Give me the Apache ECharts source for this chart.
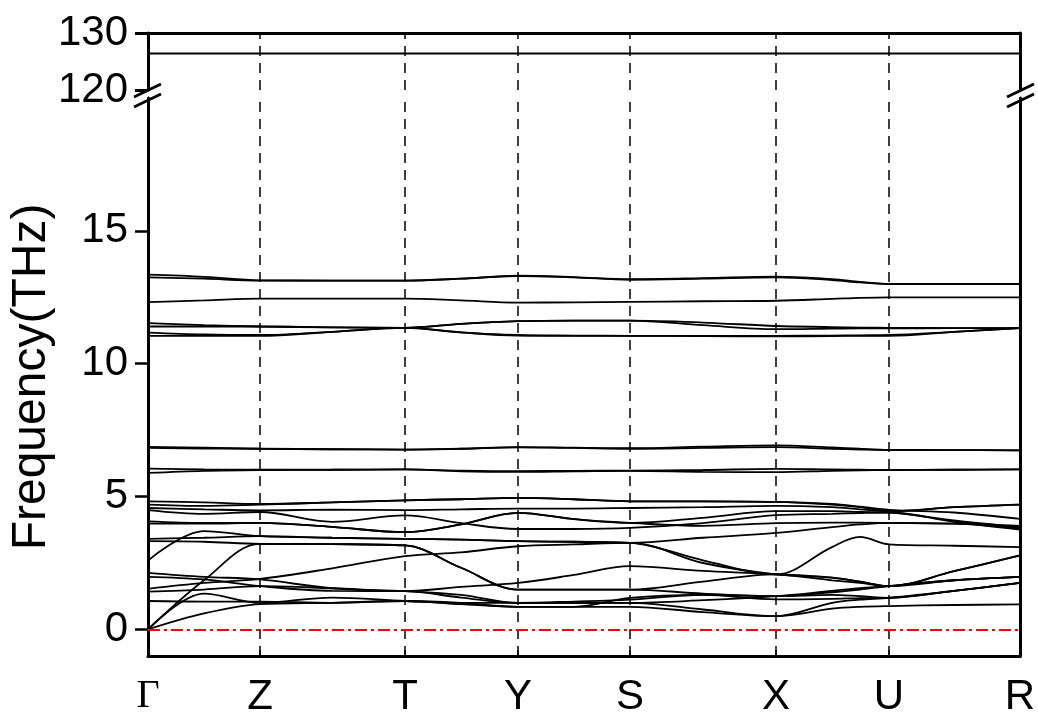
<!DOCTYPE html>
<html><head><meta charset="utf-8">
<script src="https://cdn.jsdelivr.net/npm/echarts@6/dist/echarts.min.js"></script>
<style>html,body{margin:0;padding:0;background:#fff}#c{width:1038px;height:716px}</style>
</head><body><div id="c"></div>
<script>
// k-path sample positions (path distance units) and high-symmetry points
const kx = [0, 56, 112, 184, 257, 313, 370, 426, 482, 555, 628, 684, 712, 741, 806, 872];
const kPos = [0, 112, 257, 370, 482, 628, 741, 872];
const kLabels = ['Γ', 'Z', 'T', 'Y', 'S', 'X', 'U', 'R'];
const lowTicks = [0, 5, 10, 15];
const highTicks = [120, 130];
const zeroRef = 0;

// low-frequency bands (THz), one value per kx sample
const b01 = [0, 0.6, 0.95, 1.0, 1.07, 0.95, 0.85, 0.85, 0.85, 0.65, 0.5, 0.78, 0.85, 0.88, 0.92, 0.94];
const b02 = [0, 1.35, 1.0, 1.2, 1.07, 1.0, 1.0, 1.0, 1.0, 0.75, 0.5, 1.0, 1.12, 1.19, 1.45, 1.75];
const b03 = [1.07, 1.05, 1.05, 1.0, 1.07, 1.0, 0.85, 0.85, 1.19, 1.3, 1.13, 1.15, 1.18, 1.19, 1.45, 1.75];
const b04 = [1.42, 1.5, 1.63, 1.55, 1.44, 1.6, 1.75, 2.05, 2.38, 2.2, 2.07, 1.85, 1.75, 1.63, 1.85, 1.98];
const b05 = [1.53, 1.75, 1.9, 2.3, 2.76, 2.9, 3.13, 3.2, 3.26, 2.5, 2.07, 1.95, 1.8, 1.63, 2.19, 2.79];
const b06 = [1.98, 1.88, 1.63, 1.45, 1.44, 1.2, 1.0, 1.0, 1.0, 1.1, 1.25, 1.45, 1.55, 1.63, 1.85, 1.98];
const b07 = [2.13, 1.98, 1.88, 1.55, 1.44, 1.3, 1.0, 1.05, 1.12, 1.3, 1.25, 1.3, 1.25, 1.19, 1.45, 1.75];
const b08 = [0, 1.85, 3.22, 3.21, 3.16, 2.32, 1.5, 1.5, 1.5, 1.8, 2.07, 1.95, 1.8, 1.63, 2.19, 2.79];
const b09 = [2.59, 3.7, 3.51, 3.45, 3.41, 3.38, 3.32, 3.3, 3.26, 3.45, 3.63, 3.85, 3.95, 4.01, 3.98, 3.8];
const b10 = [3.32, 3.3, 3.22, 3.21, 3.16, 2.32, 1.5, 1.5, 1.5, 1.35, 1.25, 1.4, 1.5, 1.63, 1.85, 1.98];
const b11 = [3.41, 3.45, 3.51, 3.45, 3.41, 3.38, 3.32, 3.3, 3.26, 2.6, 2.07, 3.1, 3.48, 3.2, 3.15, 3.1];
const b12 = [3.98, 3.98, 4.01, 3.86, 3.66, 3.95, 4.39, 4.15, 4.01, 4.2, 4.45, 4.45, 4.42, 4.4, 4.1, 3.85];
const b13 = [4.49, 4.35, 4.42, 4.05, 4.29, 4.0, 3.78, 3.78, 3.82, 4.0, 4.3, 4.35, 4.38, 4.4, 4.05, 3.76];
const b14 = [4.07, 4.01, 4.01, 3.86, 3.66, 3.95, 4.39, 4.15, 4.01, 3.9, 4.0, 4.02, 4.02, 4.01, 3.98, 3.9];
const b15 = [4.57, 4.52, 4.48, 4.51, 4.49, 4.52, 4.55, 4.55, 4.57, 4.6, 4.65, 4.6, 4.52, 4.45, 4.6, 4.7];
const b16 = [4.70, 4.65, 4.70, 4.78, 4.86, 4.9, 4.95, 4.9, 4.82, 4.82, 4.8, 4.7, 4.6, 4.45, 4.6, 4.7];
const b17 = [4.82, 4.78, 4.72, 4.78, 4.86, 4.9, 4.95, 4.9, 4.82, 4.82, 4.8, 4.72, 4.62, 4.5, 4.4, 4.16];
// 6-7 THz bands
const m01 = [6.87, 6.84, 6.80, 6.78, 6.77, 6.80, 6.86, 6.84, 6.82, 6.88, 6.93, 6.85, 6.80, 6.76, 6.75, 6.74];
const m02 = [6.83, 6.81, 6.80, 6.78, 6.77, 6.80, 6.85, 6.83, 6.80, 6.83, 6.86, 6.80, 6.77, 6.75, 6.75, 6.74];
const m03 = [6.05, 6.02, 6.01, 6.01, 6.02, 5.98, 5.96, 5.97, 5.98, 6.0, 6.04, 6.02, 6.01, 6.0, 6.01, 6.02];
const m04 = [5.89, 5.97, 6.0, 6.01, 6.02, 5.95, 5.93, 5.95, 5.97, 5.93, 5.92, 5.97, 5.99, 6.0, 6.01, 6.02];
// 11-13.5 THz bands
const h01 = [13.35, 13.27, 13.14, 13.13, 13.13, 13.2, 13.31, 13.26, 13.18, 13.22, 13.28, 13.18, 13.08, 13.0, 13.0, 13.0];
const h02 = [13.25, 13.2, 13.13, 13.13, 13.13, 13.2, 13.30, 13.25, 13.16, 13.2, 13.25, 13.15, 13.06, 13.0, 13.0, 13.0];
const h03 = [12.32, 12.38, 12.45, 12.45, 12.45, 12.38, 12.30, 12.31, 12.33, 12.35, 12.37, 12.44, 12.48, 12.5, 12.5, 12.5];
const h04 = [11.53, 11.45, 11.40, 11.37, 11.35, 11.5, 11.60, 11.62, 11.62, 11.55, 11.42, 11.38, 11.36, 11.35, 11.34, 11.34];
const h05 = [11.40, 11.40, 11.40, 11.37, 11.35, 11.5, 11.60, 11.62, 11.62, 11.45, 11.30, 11.32, 11.33, 11.33, 11.34, 11.34];
const h06 = [11.17, 11.10, 11.08, 11.2, 11.35, 11.18, 11.08, 11.06, 11.05, 11.04, 11.03, 11.04, 11.05, 11.05, 11.2, 11.34];
const h07 = [11.05, 11.05, 11.05, 11.2, 11.35, 11.18, 11.06, 11.05, 11.05, 11.05, 11.05, 11.06, 11.07, 11.08, 11.2, 11.34];
// top band (~126 THz)
const t01 = [126.4, 126.4, 126.4, 126.4, 126.4, 126.4, 126.4, 126.4, 126.4, 126.4, 126.4, 126.4, 126.4, 126.4, 126.4, 126.4];

const lowBands = [b01,b02,b03,b04,b05,b06,b07,b08,b09,b10,b11,b12,b13,b14,b15,b16,b17,m01,m02,m03,m04,h01,h02,h03,h04,h05,h06,h07];
const topBands = [t01];

const FONT = 'Arial, "Liberation Sans", sans-serif';
const chart = echarts.init(document.getElementById('c'), null, {renderer: 'canvas'});

function bandSeries(vals, xi, yi) {
  return {
    type: 'line', xAxisIndex: xi, yAxisIndex: yi,
    data: kx.map((x, i) => [x, vals[i]]),
    smooth: 0.35, showSymbol: false, symbol: 'none', silent: true,
    lineStyle: {color: '#000', width: 1.8}, z: 3
  };
}
const vLines = kPos.slice(1, -1).map(v => ({xAxis: v, lineStyle: {color: '#000', width: 1.5, type: [10, 7]}}));

const series = [];
lowBands.forEach(b => series.push(bandSeries(b, 1, 2)));
topBands.forEach(b => series.push(bandSeries(b, 0, 0)));
series.push({
  type: 'line', xAxisIndex: 1, yAxisIndex: 2, data: [], silent: true,
  markLine: {symbol: ['none', 'none'], silent: true, animation: false, label: {show: false},
    data: vLines.concat([{yAxis: zeroRef, lineStyle: {color: '#ff0000', width: 2, type: [12, 4, 3, 4]}}])}
});
series.push({
  type: 'line', xAxisIndex: 0, yAxisIndex: 0, data: [], silent: true,
  markLine: {symbol: ['none', 'none'], silent: true, animation: false, label: {show: false}, data: vLines}
});

const axisLine = {show: true, onZero: false, lineStyle: {color: '#000', width: 3}};
const upTop = 33, upH = 57, lowTop = 98, lowBottom = 60, L = 148, R = 18;

chart.setOption({
  animation: false,
  backgroundColor: '#fff',
  grid: [
    {left: L, right: R, top: upTop, height: upH, outerBoundsMode: 'none', containLabel: false},
    {left: L, right: R, top: lowTop, bottom: lowBottom, outerBoundsMode: 'none', containLabel: false}
  ],
  xAxis: [
    {type: 'value', gridIndex: 0, min: 0, max: 872, position: 'top', axisLine: axisLine,
      axisTick: {show: false}, axisLabel: {show: false}, splitLine: {show: false}},
    {type: 'value', gridIndex: 1, min: 0, max: 872, position: 'bottom', axisLine: axisLine,
      axisTick: {show: true, inside: true, length: 6, customValues: kPos, lineStyle: {color: '#000', width: 1.5}},
      axisLabel: {show: true, customValues: kPos, margin: 20, color: '#000', fontFamily: FONT, fontSize: 42,
        formatter: v => { const i = kPos.indexOf(v); const s = i >= 0 ? kLabels[i] : ''; return i === 0 ? '{g|' + s + '}' : s; },
        rich: {g: {fontFamily: '"Liberation Serif", "Times New Roman", serif', fontSize: 40, color: '#000'}}},
      splitLine: {show: false}}
  ],
  yAxis: [
    {type: 'value', gridIndex: 0, min: 120, max: 130, position: 'left', axisLine: axisLine,
      axisTick: {show: true, length: 13, customValues: highTicks, lineStyle: {color: '#000', width: 3}},
      axisLabel: {show: true, customValues: highTicks, margin: 20, color: '#000', fontFamily: FONT, fontSize: 42},
      splitLine: {show: false}},
    {type: 'value', gridIndex: 0, min: 120, max: 130, position: 'right', axisLine: axisLine,
      axisTick: {show: false}, axisLabel: {show: false}, splitLine: {show: false}},
    {type: 'value', gridIndex: 1, min: -1, max: 20, position: 'left', axisLine: axisLine,
      name: 'Frequency(THz)', nameLocation: 'middle', nameGap: 92,
      nameTextStyle: {color: '#000', fontFamily: FONT, fontSize: 48},
      axisTick: {show: true, length: 13, customValues: lowTicks, lineStyle: {color: '#000', width: 2.5}},
      axisLabel: {show: true, customValues: lowTicks, margin: 20, color: '#000', fontFamily: FONT, fontSize: 42},
      splitLine: {show: false}},
    {type: 'value', gridIndex: 1, min: -1, max: 20, position: 'right', axisLine: axisLine,
      axisTick: {show: false}, axisLabel: {show: false}, splitLine: {show: false}}
  ],
  graphic: [
    {type: 'line', shape: {x1: L - 14, y1: 97, x2: L + 13, y2: 84}, style: {stroke: '#000', lineWidth: 3}, z: 100},
    {type: 'line', shape: {x1: L - 14, y1: 107, x2: L + 13, y2: 94}, style: {stroke: '#000', lineWidth: 3}, z: 100},
    {type: 'line', shape: {x1: 1038 - R - 13, y1: 97, x2: 1038 - R + 14, y2: 84}, style: {stroke: '#000', lineWidth: 3}, z: 100},
    {type: 'line', shape: {x1: 1038 - R - 13, y1: 107, x2: 1038 - R + 14, y2: 94}, style: {stroke: '#000', lineWidth: 3}, z: 100}
  ],
  series: series
});
</script></body></html>
